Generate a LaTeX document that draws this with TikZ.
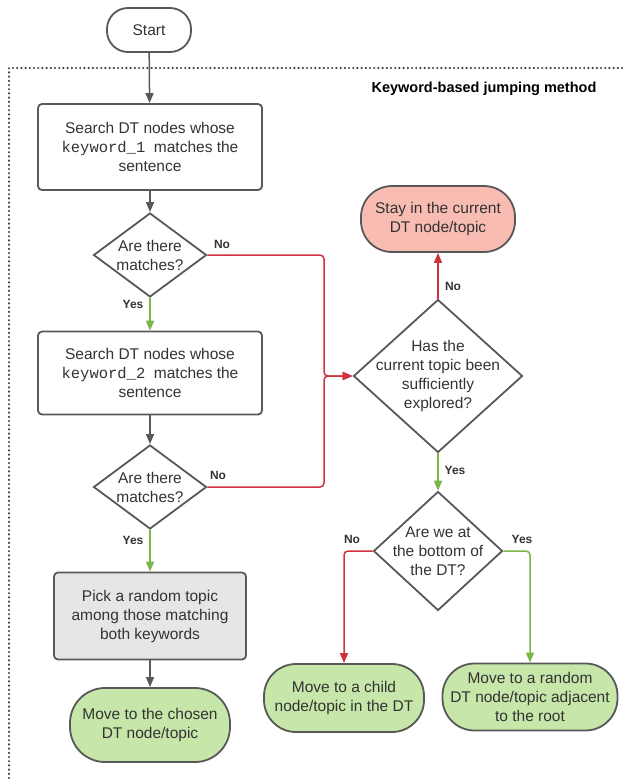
\documentclass[tikz,border=0pt]{standalone}
\usepackage{fontspec}
\setmainfont{Liberation Sans}
\setmonofont{Liberation Mono}
\usetikzlibrary{shapes.geometric,arrows.meta}
\definecolor{lgray}{RGB}{88,88,88}
\definecolor{tgray}{RGB}{51,51,51}
\definecolor{fred}{RGB}{208,50,60}
\definecolor{fgreen}{RGB}{122,182,72}
\definecolor{greenfill}{RGB}{199,230,170}
\definecolor{redfill}{RGB}{248,188,178}
\definecolor{grayfill}{RGB}{230,230,230}
\tikzset{
  base/.style={draw=lgray, line width=1.8pt, text=tgray, align=center, inner sep=0pt,
    font=\fontsize{15.5}{19}\selectfont},
  procbox/.style={base, rectangle, rounded corners=4pt},
  term/.style={base, rectangle},
  decision/.style={base, diamond, shape aspect=1, text=tgray},
  dlabel/.style={label={[text=tgray, align=center, font=\fontsize{15.5}{19}\selectfont]center:#1}},
  lab/.style={text=tgray, font=\bfseries\fontsize{12}{14}\selectfont, inner sep=0pt},
  conn/.style={line width=1.5pt, -{Triangle[length=10pt,width=8pt]}},
  gconn/.style={conn, draw=lgray},
  rconn/.style={conn, draw=fred, rounded corners=4pt},
  yconn/.style={conn, draw=fgreen, rounded corners=4pt},
}
\begin{document}
\begin{tikzpicture}[x=1pt, y=-1pt]
\useasboundingbox (0,0) rectangle (622,779);
% dotted frame
\draw[black!75, line width=2.4pt, line cap=round, dash pattern=on 0pt off 4.2pt] (622,68) -- (9,68) -- (9,779);
\node[text=black, font=\bfseries\fontsize{14.5}{17}\selectfont, inner sep=0pt] (title) at (484,89) {Keyword-based jumping method};

\node[term, minimum width=84pt, minimum height=44pt, rounded corners=21pt] (start) at (149,30) {Start};
\node[procbox, minimum width=224pt, minimum height=86pt] (b1) at (150,147) {Search DT nodes whose\\\texttt{keyword\_1}\ \ matches the\\sentence};
\node[decision, minimum width=113pt, minimum height=84pt, dlabel={Are there\\matches?}] (d1) at (150,255) {};
\node[procbox, minimum width=224pt, minimum height=83pt] (b2) at (150,373) {Search DT nodes whose\\\texttt{keyword\_2}\ \ matches the\\sentence};
\node[decision, minimum width=113pt, minimum height=84pt, dlabel={Are there\\matches?}] (d2) at (150,487) {};
\node[procbox, fill=grayfill, minimum width=192pt, minimum height=87pt] (b3) at (150,616) {Pick a random topic\\among those matching\\both keywords};
\node[term, fill=greenfill, minimum width=160pt, minimum height=74pt, rounded corners=35pt] (chosen) at (150,725) {Move to the chosen\\DT node/topic};

\node[term, fill=redfill, minimum width=154pt, minimum height=66pt, rounded corners=31pt] (stay) at (438,219) {Stay in the current\\DT node/topic};
\node[decision, minimum width=169pt, minimum height=153pt, dlabel={Has the\\current topic been\\sufficiently\\explored?}] (d3) at (438,376) {};
\node[decision, minimum width=129pt, minimum height=119pt, dlabel={Are we at\\the bottom of\\the DT?}] (d4) at (438,551) {};
\node[term, fill=greenfill, minimum width=160pt, minimum height=68pt, rounded corners=32pt] (child) at (344,698) {Move to a child\\node/topic in the DT};
\node[term, fill=greenfill, minimum width=175pt, minimum height=67pt, rounded corners=32pt] (root) at (530,697) {Move to a random\\DT node/topic adjacent\\to the root};

\coordinate (j) at (324,376);

% connectors
\draw[gconn] (start) -- (b1);
\draw[gconn] (b1) -- (d1);
\draw[yconn] (d1.south) -- (b2.north);
\draw[gconn] (b2) -- (d2);
\draw[yconn] (d2.south) -- (b3.north);
\draw[gconn] (b3) -- (chosen);
\draw[rconn] (d1.east) -| (j) -- (d3.west);
\draw[rconn] (d2.east) -| (j) -- (d3.west);
\draw[rconn] (d3.north) -- (stay.south);
\draw[yconn] (d3.south) -- (d4.north);
\draw[rconn] (d4.west) -| (child.north);
\draw[yconn] (d4.east) -| (root.north);

% labels
\node[lab] (l1) at (222,244) {No};
\node[lab] (l2) at (133,304) {Yes};
\node[lab] (l3) at (218,475) {No};
\node[lab] (l4) at (133,540) {Yes};
\node[lab] (l5) at (453,286) {No};
\node[lab] (l6) at (455,470) {Yes};
\node[lab] (l7) at (352,539) {No};
\node[lab] (l8) at (522,539) {Yes};
\end{tikzpicture}
\end{document}
